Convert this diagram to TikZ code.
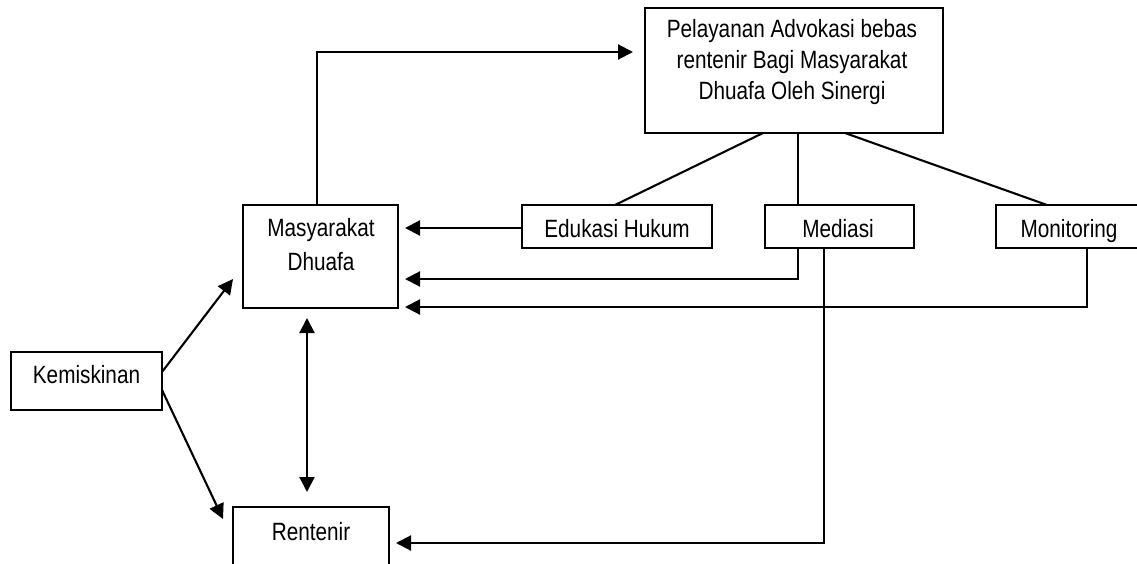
\documentclass[tikz,border=0pt]{standalone}
\usepackage{fontspec}
\setmainfont{Liberation Sans}[FakeStretch=0.83]
\usetikzlibrary{arrows.meta}
\tikzset{
  box/.style={draw, line width=1.9pt, inner sep=0pt, outer sep=0pt},
  lbl/.style={inner sep=0pt, outer sep=0pt, align=center, anchor=base, font=\fontsize{25pt}{31pt}\selectfont},
  conn/.style={line width=2.1pt},
  arr/.style={conn, -{Triangle[length=15pt,width=15pt]}},
  dbl/.style={conn, {Triangle[length=15pt,width=15pt]}-{Triangle[length=15pt,width=15pt]}}
}
\begin{document}
\begin{tikzpicture}[x=1pt,y=-1pt]
\useasboundingbox (0,0) rectangle (1137,564);
\clip (0,0) rectangle (1137,564);
% boxes
\node[box, minimum width=298pt, minimum height=125pt] (top) at (794,70.5) {};
\node[box, minimum width=155pt, minimum height=103pt] (mas) at (320.5,256.5) {};
\node[box, minimum width=190pt, minimum height=43pt] (edu) at (617,226.5) {};
\node[box, minimum width=149pt, minimum height=43pt] (med) at (839.5,226.5) {};
\node[box, minimum width=146pt, minimum height=43pt] (mon) at (1069,226.5) {};
\node[box, minimum width=151pt, minimum height=58pt] (kem) at (86.5,381) {};
\node[box, minimum width=156pt, minimum height=62pt] (ren) at (311,538) {};
% texts (base anchor = baseline of last line)
\node[lbl] (topT) at (792,100) {Pelayanan Advokasi bebas\\rentenir Bagi Masyarakat\\Dhuafa Oleh Sinergi};
\node[lbl, font=\fontsize{25pt}{34pt}\selectfont] (masT) at (321,270.5) {Masyarakat\\Dhuafa};
\node[lbl] (eduT) at (617,237.5) {Edukasi Hukum};
\node[lbl] (medT) at (838,237.5) {Mediasi};
\node[lbl] (monT) at (1069,237) {Monitoring};
\node[lbl] (kemT) at (86.5,383) {Kemiskinan};
\node[lbl] (renT) at (311,540) {Rentenir};
% connectors
\draw[arr, shorten >=12pt] ([xshift=-3.5pt]mas.north) |- ([yshift=18.5pt]top.west);
\draw[conn] ([xshift=-31pt]top.south) -- ([xshift=-2pt]edu.north);
\draw[conn] ([xshift=-41.5pt]med.north) -- ([xshift=-41.5pt]med.north |- top.south);
\draw[conn] ([xshift=51pt]top.south) -- ([xshift=-22pt]mon.north);
\draw[arr, shorten >=7pt] ([yshift=-1.5pt]edu.west) -- ([yshift=-1.5pt]edu.west -| mas.east);
\draw[arr, shorten >=7pt] ([xshift=-41.5pt]med.south) |- ([yshift=-22.5pt]mas.east);
\draw[arr, shorten >=7pt] ([xshift=18pt]mon.south) |- ([yshift=-50.5pt]mas.east);
\draw[arr, shorten >=7pt] ([xshift=-15.5pt]med.south) |- ([yshift=-5pt]ren.east);
\draw[arr] ([yshift=9pt]kem.east) -- ([xshift=-10pt,yshift=-22.5pt]mas.west);
\draw[arr] ([yshift=-9pt]kem.east) -- ([xshift=-10pt,yshift=19pt]ren.west);
\draw[dbl, shorten <=10pt, shorten >=15pt] ([xshift=-13.5pt]mas.south) -- ([xshift=-13.5pt]mas.south |- ren.north);
\end{tikzpicture}
\end{document}
